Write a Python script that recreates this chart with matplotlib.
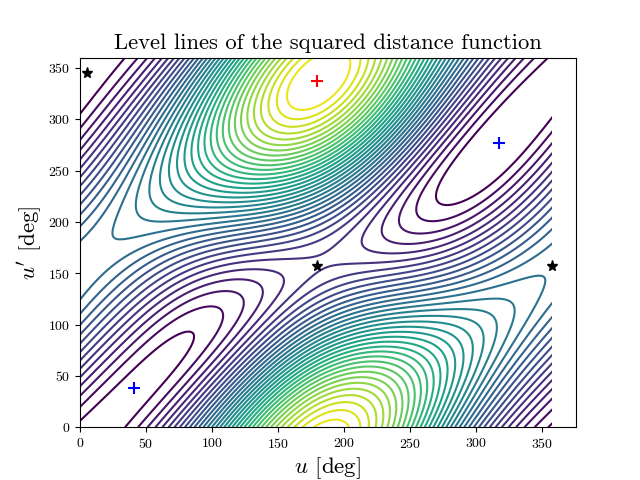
import matplotlib
matplotlib.use('Agg')
import matplotlib.pyplot as plt
from matplotlib.patches import Rectangle
import numpy as np

plt.rcParams['font.family'] = ['cmr10', 'DejaVu Serif']
plt.rcParams['mathtext.fontset'] = 'cm'
plt.rcParams['axes.formatter.use_mathtext'] = True

# grid, values are in "number of level lines"
u_deg = [0, 30, 60, 90, 120, 150, 180, 210, 240, 270, 300, 330, 360]
up_deg = [0, 30, 60, 90, 120, 150, 180, 210, 240, 270, 300, 330, 360]

z_u0 = [0.85, 2.7, 6.1, 9.5, 12.4, 13.6, 13.2, 10.5, 7.4, 4.5, 1.2, 0.75, 0.85]
z_u30 = [0.3, 0, 3, 5.8, 9.1, 12.2, 14.6, 14.5, 12, 9, 5.9, 3.1, 0.3]
z_u60 = [4, 0, -1.5, 1.2, 5.8, 9.3, 13.2, 16.5, 18.5, 15, 11.5, 8, 4]
z_u90 = [13.5, 9, 2, -2, 2.6, 6, 10.3, 15.3, 20.5, 24, 21.5, 17.8, 13.5]
z_u120 = [22.7, 15.7, 9.7, 2.4, 3.8, 7.2, 9.5, 15, 21, 26.7, 28.8, 26.4, 22.7]
z_u150 = [31.2, 25.5, 18.5, 11, 3.4, 5.4, 9.5, 13.6, 19.5, 26, 31.5, 33.6, 31.2]
z_u180 = [34.4, 29.5, 22.5, 15.5, 7.5, 5, 7.3, 14, 21, 28, 33.3, 35.5, 34.4]
z_u210 = [33.3, 30.3, 25, 19.5, 13, 6, 4.8, 6.5, 14.5, 23, 31, 33.7, 33.3]
z_u240 = [28.2, 28.5, 25.5, 21, 15.5, 9.5, 3.6, 2.4, 5.4, 11, 17.5, 23.5, 28.2]
z_u270 = [20, 22.5, 23.3, 21.3, 15.5, 9.3, 4, 1.2, 1.2, 4, 8.5, 14, 20]
z_u300 = [9.6, 15.5, 17.6, 17.7, 15, 9.5, 5, 2.6, 0.5, 0.2, 2.5, 5.8, 9.6]
z_u330 = [3.8, 8.7, 11.9, 14.4, 15.2, 13.5, 10.1, 6.6, 3.2, 1.1, -0.3, 1.2, 3.8]
z_u360 = [0.85, 2.7, 6.1, 9.5, 12.4, 13.6, 13.2, 10.5, 7.4, 4.5, 1.2, 0.75, 0.85]

level_values = list(range(1, 36))

maxima = ([180], [337])
minima = ([41, 318], [38, 277])
saddles = ([180, 5, 358], [157, 345, 157])

z = np.array([z_u0, z_u30, z_u60, z_u90, z_u120, z_u150, z_u180,
              z_u210, z_u240, z_u270, z_u300, z_u330, z_u360])

# the table wraps around, keep its low harmonics only and pad the spectrum
# so the lines come out smooth instead of following my reading errors
n_table = z.shape[0] - 1
n_fine = 360
spec = np.fft.fftshift(np.fft.fft2(z[:-1, :-1]))
c = n_table // 2
keep = np.zeros(spec.shape, dtype=bool)
keep[c - 2:c + 3, c] = True
keep[c, c - 2:c + 3] = True
keep[c - 1:c + 2, c - 1:c + 2] = True
spec[~keep] = 0
pad = (n_fine - n_table) // 2
fine = np.fft.ifft2(np.fft.ifftshift(np.pad(spec, pad))).real * (n_fine / n_table) ** 2
fine = np.vstack([fine, fine[:1]])
fine = np.hstack([fine, fine[:, :1]])
grid = np.arange(n_fine + 1)

fig, ax = plt.subplots(figsize=(6.4, 4.8))
lignes = ax.contour(grid, grid, fine.T, levels=level_values, cmap='viridis',
                    vmin=1, vmax=36, linewidths=1.5)
# the lines stop just before 360 on the right
lignes.set_clip_path(Rectangle((0, 0), 357.5, 360, transform=ax.transData))

ax.plot(maxima[0], maxima[1], '+', color='red', markersize=9, markeredgewidth=1.5)
ax.plot(minima[0], minima[1], '+', color='blue', markersize=9, markeredgewidth=1.5)
ax.plot(saddles[0], saddles[1], '*', color='black', markersize=8)

ax.set_xlim(0, 376)
ax.set_ylim(0, 360)
ax.set_xticks(range(0, 351, 50))
ax.set_yticks(range(0, 351, 50))
ax.set_title('Level lines of the squared distance function', fontsize=16.3)
ax.set_xlabel(r"$u$ [deg]", fontsize=16.5, labelpad=3)
ax.set_ylabel(r"$u'$ [deg]", fontsize=16.5, labelpad=3)

plt.savefig('out.png', dpi=100)
